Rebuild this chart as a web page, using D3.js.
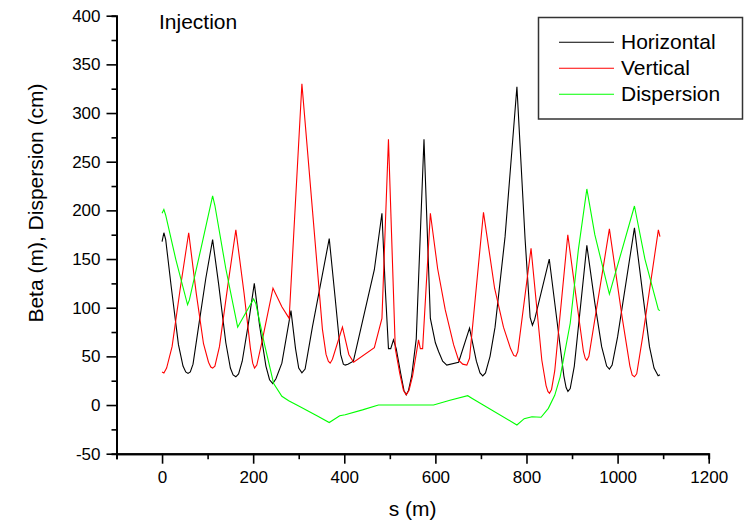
<!DOCTYPE html>
<html>
<head>
<meta charset="utf-8">
<script src="https://cdn.jsdelivr.net/npm/d3@7"></script>
<style>
  body { margin: 0; background: #fff; }
  svg { display: block; font-family: "Liberation Sans", Arial, sans-serif; }
</style>
</head>
<body>
<div id="chart"></div>
<script>
// beta / dispersion values, s in metres
var sH = [0, 4, 8, 20, 36, 46, 52, 57, 62, 68, 80, 96, 111, 124, 140, 150, 156, 162, 168, 176, 190, 202.5, 214, 228, 236, 243, 250, 263, 283, 293, 300, 307, 314, 330, 367, 380, 392, 398, 402, 408, 420, 466, 482.7, 490, 497, 502, 508, 514, 524, 531, 536, 541, 548, 558, 575, 589, 600, 607, 616, 625, 651, 675, 690, 698, 704, 710, 720, 731, 753, 779, 797, 808, 813, 818, 850, 870, 882, 887, 891, 896, 905, 932.5, 950, 965, 976, 982, 988, 1000, 1037, 1055, 1070, 1080, 1089, 1093]
var betaH = [168, 177, 170, 122, 62, 40, 34, 32.5, 34, 42, 80, 130, 170, 125, 64, 38, 31, 29, 32, 45, 85, 125, 82, 40, 26, 22, 27, 43, 97, 58, 38, 33, 37, 80, 171, 110, 52, 42, 41, 42, 45, 139, 197, 120, 58, 58, 67, 58, 32, 15, 10.5, 15, 30, 68, 273, 89, 64, 55, 45, 41, 44, 79, 45, 33, 30, 33, 50, 80, 173, 327, 170, 90, 82, 88, 150, 75, 30, 18, 14, 17, 40, 164, 105, 60, 40, 37, 41, 70, 182, 115, 60, 38, 30, 31]

var sV = [0, 4, 10, 22, 40, 58.5, 75, 91, 102, 107, 111, 116, 126, 145, 162, 180, 194, 199, 203, 208, 218, 243.5, 263, 279, 307, 352, 360, 365, 369, 374, 396, 410, 420.5, 466, 482.7, 497, 512, 522, 530, 536, 542, 550, 563, 567, 572, 589, 605, 621.6, 640, 651, 660, 669, 675, 705.6, 730, 749.5, 765, 772, 776.7, 781, 810, 833.7, 843, 847, 850.5, 855, 862, 890.7, 912, 925, 929, 932.5, 937, 982, 1010, 1027, 1032, 1037, 1042, 1055, 1089.5, 1093]
var betaV = [34, 33, 38, 60, 120, 177, 115, 63, 44, 39, 38, 40, 60, 125, 180, 115, 58, 43, 38, 41, 62, 120, 101, 89, 330, 78, 52, 45, 43, 47, 80, 52, 44, 59, 89, 273, 58, 32, 15, 10.5, 15, 30, 67, 58, 58, 197, 140, 98, 62, 46, 42, 41, 48, 198, 120, 80, 58, 51, 50, 55, 161, 46, 20, 14, 12, 16, 35, 175, 100, 55, 48, 46, 50, 181, 90, 40, 31, 29, 32, 70, 180, 173]

var sD = [0, 4, 8, 30, 56, 60, 85, 111, 116, 140, 166, 172, 201, 206, 225, 245, 263, 278, 300, 340, 367, 390, 402, 440, 475, 596, 632, 671, 680, 779, 795, 812, 832, 848, 862, 874, 896, 914, 932.5, 950, 982, 1010, 1037, 1060, 1089.5, 1093]
var dispD = [197, 201, 195, 150, 103, 108, 160, 215, 205, 140, 80, 85, 109, 104, 62, 22, 9, 4.4, -1, -11, -18, -11, -10, -5, 0, 0, 5, 9.6, 7, -20.5, -14, -12, -12.6, -3.4, 10, 29, 84, 160, 222, 175, 114, 160, 204.5, 150, 98, 97]

var seriesNames = ["Horizontal", "Vertical", "Dispersion"]
var seriesColors = ["#000000", "#ff0000", "#00ff00"]
var xTicks = [0, 200, 400, 600, 800, 1000, 1200]
var yTicks = [-50, 0, 50, 100, 150, 200, 250, 300, 350, 400]

var width = 746, height = 526
var svg = d3.select("#chart").append("svg")
    .attr("width", width)
    .attr("height", height)

var x = d3.scaleLinear().domain([-100, 1200]).range([116.5, 708.7])
var y = d3.scaleLinear().domain([-50, 400]).range([453.7, 15.7])

// plain labels: no thousands comma, ascii hyphen for negatives
var plain = function(d) { return String(d) }

var series = [
    d3.zip(sH, betaH),
    d3.zip(sV, betaV),
    d3.zip(sD, dispD)
]

var line = d3.line()
    .x(function(d) { return x(d[0]) })
    .y(function(d) { return y(d[1]) })

svg.selectAll("path.curve")
    .data(series)
    .enter()
    .append("path")
    .attr("class", "curve")
    .attr("d", line)
    .attr("fill", "none")
    .attr("stroke", function(d, i) { return seriesColors[i] })
    .attr("stroke-width", 1.1)

// minor ticks first, then the labelled major axis on top
svg.append("g")
    .attr("transform", "translate(0,453.7)")
    .call(d3.axisBottom(x).tickValues(d3.range(-100, 1200, 200)).tickSize(5.5).tickFormat(""))
svg.append("g")
    .attr("class", "xaxis")
    .attr("transform", "translate(0,453.7)")
    .call(d3.axisBottom(x).tickValues(xTicks).tickSize(10).tickSizeOuter(0).tickPadding(7).tickFormat(plain))

svg.append("g")
    .attr("transform", "translate(116.5,0)")
    .call(d3.axisLeft(y).tickValues(d3.range(-25, 400, 50)).tickSize(5).tickFormat(""))
svg.append("g")
    .attr("class", "yaxis")
    .attr("transform", "translate(116.5,0)")
    .call(d3.axisLeft(y).tickValues(yTicks).tickSize(10).tickSizeOuter(0).tickPadding(6).tickFormat(plain))

svg.selectAll(".domain").attr("stroke", "#000").attr("stroke-width", 2)
svg.selectAll(".tick line").attr("stroke", "#000").attr("stroke-width", 1.6)
svg.selectAll(".tick text")
    .attr("font-family", "Liberation Sans, Arial, sans-serif")
    .attr("font-size", 17)
    .attr("fill", "#000")

// titles
svg.append("text")
    .attr("x", 159)
    .attr("y", 29)
    .attr("font-size", 21)
    .text("Injection")

svg.append("text")
    .attr("x", 412.6)
    .attr("y", 516)
    .attr("text-anchor", "middle")
    .attr("font-size", 21)
    .text("s (m)")

svg.append("text")
    .attr("transform", "translate(43,203) rotate(-90)")
    .attr("text-anchor", "middle")
    .attr("font-size", 21)
    .text("Beta (m), Dispersion (cm)")

// legend
var legend = svg.append("g")
legend.append("rect")
    .attr("x", 538.5)
    .attr("y", 17.5)
    .attr("width", 204)
    .attr("height", 101.5)
    .attr("fill", "#fff")
    .attr("stroke", "#333")
    .attr("stroke-width", 1.5)

var items = legend.selectAll("g.item")
    .data(seriesNames)
    .enter()
    .append("g")
    .attr("class", "item")
    .attr("transform", function(d, i) { return "translate(0," + (42.3 + i * 26) + ")" })
items.append("line")
    .attr("x1", 559)
    .attr("x2", 614)
    .attr("stroke", function(d, i) { return seriesColors[i] })
    .attr("stroke-width", 1.1)
items.append("text")
    .attr("x", 621)
    .attr("y", 7)
    .attr("font-size", 21)
    .text(function(d) { return d })
</script>
</body>
</html>
